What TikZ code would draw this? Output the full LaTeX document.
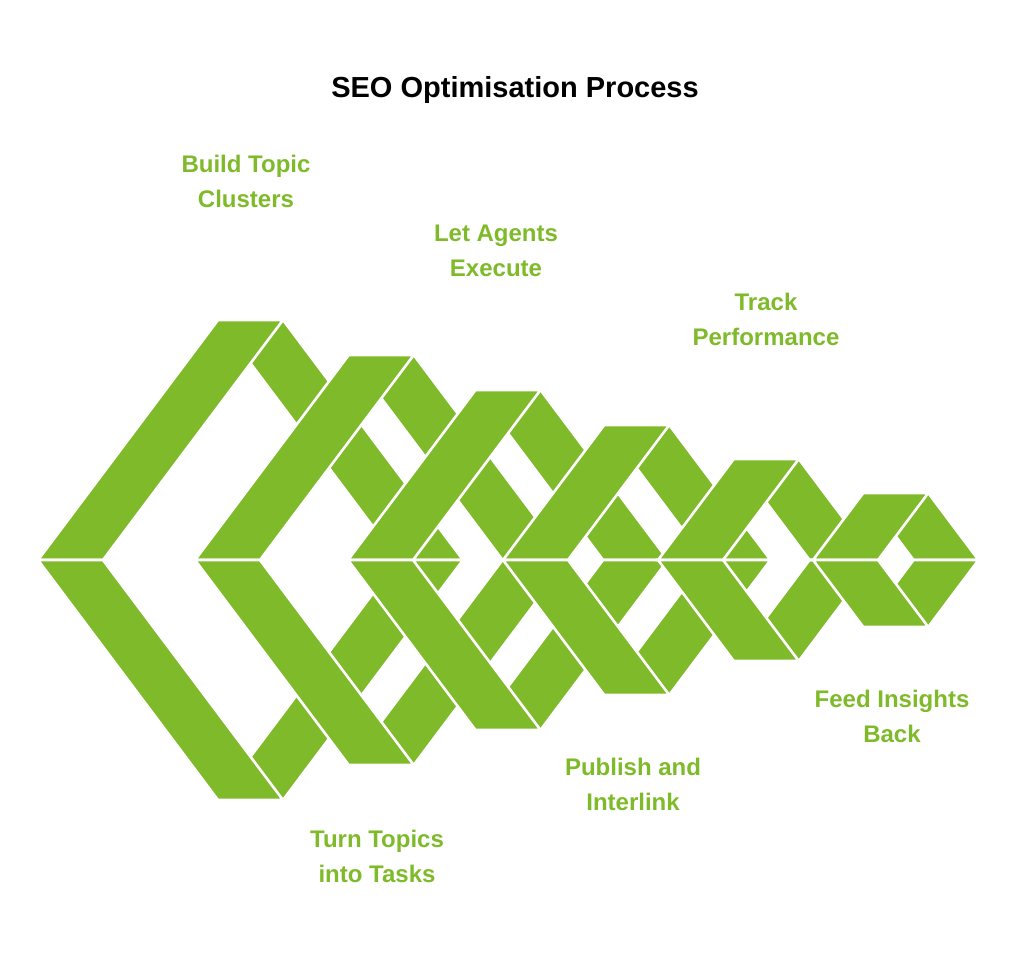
\documentclass[tikz,border=0pt]{standalone}
\usepackage{fontspec}
\setmainfont{Liberation Sans}
\definecolor{leaf}{HTML}{7FBA2A}
\tikzset{arm/.style={fill=leaf,draw=white,line width=2.6pt,line join=miter},
  lbl/.style={text=leaf,font=\bfseries\fontsize{24}{35}\selectfont,align=center}}
\newcommand{\rarms}[2]{%
  \path[arm] ({#1+0.75*#2},{560-#2}) -- ({#1+0.75*#2+65},{560-#2}) -- ({#1+1.5*#2+65},560) -- ({#1+1.5*#2},560) -- cycle;
  \path[arm] ({#1+0.75*#2},{560+#2}) -- ({#1+0.75*#2+65},{560+#2}) -- ({#1+1.5*#2+65},560) -- ({#1+1.5*#2},560) -- cycle;}
\newcommand{\larms}[2]{%
  \path[arm] (#1,560) -- ({#1+65},560) -- ({#1+0.75*#2+65},{560-#2}) -- ({#1+0.75*#2},{560-#2}) -- cycle;
  \path[arm] (#1,560) -- ({#1+65},560) -- ({#1+0.75*#2+65},{560+#2}) -- ({#1+0.75*#2},{560+#2}) -- cycle;}
\begin{document}
\begin{tikzpicture}[x=1pt,y=-1pt]
\useasboundingbox (0,0) rectangle (1024,958);
\rarms{38}{240}\rarms{195}{205}\rarms{348}{170}\rarms{503}{135}\rarms{658}{101}\rarms{813}{67}
\larms{38}{240}\larms{195}{205}\larms{348}{170}\larms{503}{135}\larms{658}{101}\larms{813}{67}
\node[font=\bfseries\fontsize{29}{35}\selectfont] (title) at (515,90) {SEO Optimisation Process};
\node[lbl] (l1) at (246,181) {Build Topic\\Clusters};
\node[lbl] (l2) at (496,251) {Let Agents\\Execute};
\node[lbl] (l3) at (766,319) {Track\\Performance};
\node[lbl] (l4) at (892,716) {Feed Insights\\Back};
\node[lbl] (l5) at (633,784) {Publish and\\Interlink};
\node[lbl] (l6) at (377,856) {Turn Topics\\into Tasks};
\end{tikzpicture}
\end{document}
